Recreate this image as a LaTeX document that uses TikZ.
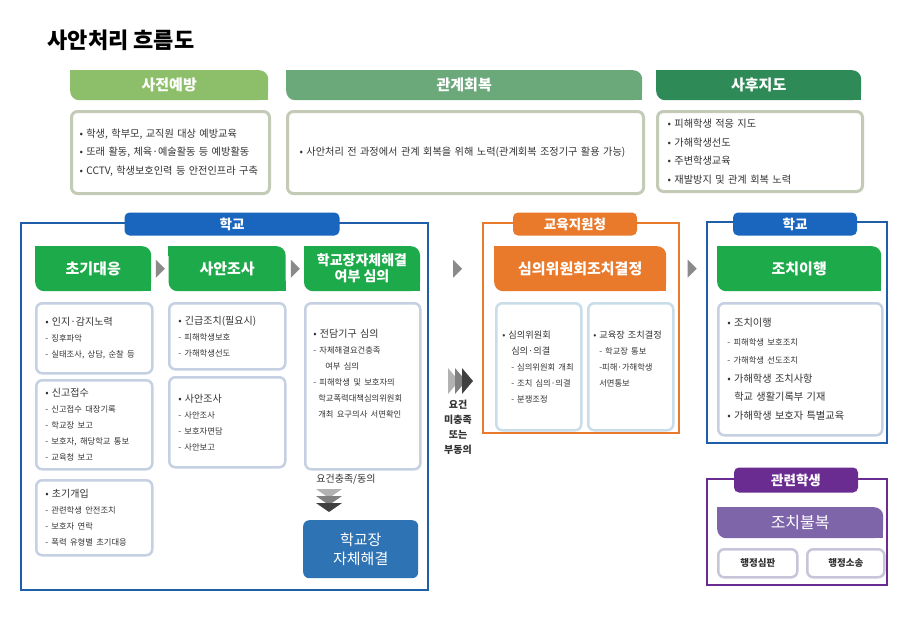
\documentclass[tikz,border=0pt]{standalone}
\usepackage{fontspec}
\setmainfont{Noto Sans CJK KR}
\usetikzlibrary{positioning, calc}
\definecolor{sajeon}{HTML}{8DBE6A}
\definecolor{gwangye}{HTML}{6BA87A}
\definecolor{sahu}{HTML}{2E8B57}
\definecolor{topline}{HTML}{C3CBB6}
\definecolor{school}{HTML}{1F5FAA}
\definecolor{schooltab}{HTML}{1A66BE}
\definecolor{stepgreen}{HTML}{1DAA4A}
\definecolor{boxline}{HTML}{C5D0E3}
\definecolor{selfblue}{HTML}{2E74B5}
\definecolor{office}{HTML}{E97A2C}
\definecolor{officeline}{HTML}{C9DDE9}
\definecolor{related}{HTML}{6B2C91}
\definecolor{relatedhead}{HTML}{7E65AA}
\definecolor{relatedline}{HTML}{C8C5DA}
\definecolor{arrowgray}{HTML}{8A8A8A}
\definecolor{txt}{HTML}{333333}
\newcommand{\subtxt}[1]{{\fontsize{8.3}{16}\selectfont #1}}

\begin{document}
\begin{tikzpicture}[x=1pt, y=-1pt,
    stephead/.style={fill=#1, rounded corners=9pt, text=white, align=center,
                     anchor=north west, font=\bfseries\fontsize{15}{17}\selectfont},
    labeltab/.style={fill=#1, rounded corners=5pt, text=white, minimum height=23,
                     minimum width=124, inner sep=0pt, font=\bfseries\fontsize{13.5}{15}\selectfont},
    zone/.style={draw=#1, line width=2pt, anchor=north west, inner sep=0pt},
    cbox/.style={draw=boxline, line width=2.5pt, rounded corners=6pt, fill=white,
                 anchor=north west, align=left, inner xsep=9pt, text=txt,
                 font=\fontsize{10}{16}\selectfont},
    topbox/.style={cbox, draw=topline, line width=3pt, inner xsep=8pt, font=\fontsize{10.2}{18.5}\selectfont},
    smallbox/.style={cbox, draw=#1, inner xsep=0pt, align=center,
                     font=\bfseries\fontsize{9.5}{11}\selectfont}]
  \path[use as bounding box, fill=white] (0,0) rectangle (904,619);

  \node[anchor=west, font=\bfseries\fontsize{22}{26}\selectfont] (title) at (44,40) {사안처리 흐름도};

  % top row
  \node[stephead=sajeon, minimum width=198, minimum height=30] (h1) at (70,70) {사전예방};
  \node[stephead=gwangye, minimum width=356, minimum height=30] (h2) at (286,70) {관계회복};
  \node[stephead=sahu, minimum width=205, minimum height=30] (h3) at (656,70) {사후지도};
  \node[topbox, text width=182pt, minimum height=82] (t1) at (70,110)
    {• 학생, 학부모, 교직원 대상 예방교육\\• 또래 활동, 체육·예술활동 등 예방활동\\• CCTV, 학생보호인력 등 안전인프라 구축};
  \node[topbox, text width=332pt, minimum height=82, inner xsep=12pt] (t2) at (286,110)
    {• 사안처리 전 과정에서 관계 회복을 위해 노력(관계회복 조정기구 활용 가능)};
  \node[topbox, text width=185pt, minimum height=80, inner xsep=10pt] (t3) at (656,110)
    {• 피해학생 적응 지도\\• 가해학생선도\\• 주변학생교육\\• 재발방지 및 관계 회복 노력};

  % zones
  \node[zone=school, minimum width=407, minimum height=367] (school) at (20,222) {};
  \node[zone=office, minimum width=196, minimum height=210] (office) at (482,222) {};
  \node[zone=school, minimum width=180, minimum height=221] (school2) at (706,221) {};
  \node[zone=related, minimum width=180, minimum height=106] (related) at (706,478) {};
  \node[labeltab=schooltab, minimum width=215] (tabschool) at (232,224) {학교};
  \node[labeltab=office] (taboffice) at (575,224) {교육지원청};
  \node[labeltab=schooltab] (tabschool2) at (795,224) {학교};
  \node[labeltab=related, minimum height=25] (tabrelated) at (796,480) {관련학생};

  % school steps
  \node[stephead=stepgreen, minimum width=116, minimum height=45] (s1) at (35,246) {초기대응};
  \node[stephead=stepgreen, minimum width=117, minimum height=45, right=17pt of s1] (s2) {사안조사};
  \node[stephead=stepgreen, minimum width=116, minimum height=45, right=18pt of s2,
        font=\bfseries\fontsize{14}{16}\selectfont] (s3) {학교장자체해결\\여부 심의};

  \node[cbox, text width=98pt, minimum height=70] (a1) at (35,302)
    {• 인지·감지노력\\\subtxt{- 징후파악}\\\subtxt{- 실태조사, 상담, 순찰 등}};
  \node[cbox, text width=98pt, minimum height=89] (a2) at (35,379)
    {• 신고접수\\\subtxt{- 신고접수 대장기록}\\\subtxt{- 학교장 보고}\\\subtxt{- 보호자, 해당학교 통보}\\\subtxt{- 교육청 보고}};
  \node[cbox, text width=98pt, minimum height=75] (a3) at (35,479)
    {• 초기개입\\\subtxt{- 관련학생 안전조치}\\\subtxt{- 보호자 연락}\\\subtxt{- 폭력 유형별 초기대응}};
  \node[cbox, text width=98pt, minimum height=66] (b1) at (168,302)
    {• 긴급조치(필요시)\\\subtxt{- 피해학생보호}\\\subtxt{- 가해학생선도}};
  \node[cbox, text width=98pt, minimum height=90] (b2) at (168,376)
    {• 사안조사\\\subtxt{- 사안조사}\\\subtxt{- 보호자면담}\\\subtxt{- 사안보고}};
  \node[cbox, text width=99pt, minimum height=166, inner xsep=8pt] (c1) at (304,302)
    {• 전담기구 심의\\\subtxt{- 자체해결요건충족}\\\subtxt{\hspace*{12pt}여부 심의}\\\subtxt{- 피해학생 및 보호자의}\\\subtxt{\hspace*{5pt}학교폭력대책심의위원회}\\\subtxt{\hspace*{5pt}개최 요구의사 서면확인}\\[10pt]~};
  \node[text=txt, font=\fontsize{10}{12}\selectfont] (oktxt) at (346,479) {요건충족/동의};
  \coordinate (ok) at (329,489);
  \node[fill=selfblue, rounded corners=6pt, text=white, align=center, anchor=north west,
        minimum width=115, minimum height=58, font=\fontsize{15}{19}\selectfont] (self) at (303,520) {학교장\\자체해결};

  % office
  \node[stephead=office, minimum width=172, minimum height=45] (o1) at (494,246) {심의위원회조치결정};
  \node[cbox, draw=officeline, inner xsep=6pt, text width=73pt, minimum height=127,
        font=\fontsize{9.2}{16}\selectfont] (p1) at (495,302)
    {• 심의위원회\\\hspace*{9pt}심의·의결\\\hspace*{9pt}\subtxt{- 심의위원회 개최}\\\hspace*{9pt}\subtxt{- 조치 심의·의결}\\\hspace*{9pt}\subtxt{- 분쟁조정}};
  \node[cbox, draw=officeline, inner xsep=5pt, text width=75pt, minimum height=127,
        font=\fontsize{9.2}{16}\selectfont] (p2) at (587,302)
    {• 교육장 조치결정\\\hspace*{6pt}\subtxt{- 학교장 통보}\\\hspace*{6pt}\subtxt{-피해·가해학생}\\\hspace*{6pt}\subtxt{서면통보}\\~};

  % school (after)
  \node[stephead=stepgreen, minimum width=164, minimum height=45] (r1) at (717,246) {조치이행};
  \node[cbox, text width=146pt, minimum height=132, font=\fontsize{10.2}{18.5}\selectfont] (r2) at (717,302)
    {• 조치이행\\\subtxt{- 피해학생 보호조치}\\\subtxt{- 가해학생 선도조치}\\• 가해학생 조치사항\\\hspace*{7pt}학교 생활기록부 기재\\• 가해학생 보호자 특별교육};

  % related students
  \node[stephead=relatedhead, minimum width=166, minimum height=31,
        font=\fontsize{16}{18}\selectfont] (q1) at (717,507) {조치불복};
  \node[smallbox=relatedline, minimum width=79, minimum height=28] (q2) at (717,548) {행정심판};
  \node[smallbox=relatedline, minimum width=77, minimum height=28] (q3) at (806,548) {행정소송};

  % square corners of the heads
  \foreach \n/\c in {h1/sajeon, h2/gwangye, h3/sahu, s1/stepgreen, s2/stepgreen, s3/stepgreen,
                     o1/office, r1/stepgreen, q1/relatedhead} {
    \fill[\c] (\n.north west) rectangle ++(10,10);
    \fill[\c] (\n.south east) rectangle ++(-10,-10);
  }

  % arrows
  \coordinate (a12) at ($(s1.east)!.5!(s2.west)$);
  \coordinate (a23) at ($(s2.east)!.5!(s3.west)$);
  \coordinate (m1) at ($(s3.east)!.5!(o1.west)$);
  \coordinate (m2) at ($(o1.east)!.5!(r1.west)$);
  \foreach \p in {a12, a23, m1, m2}
    \fill[arrowgray] (\p) ++(-4,-9) -- ++(9,9) -- ++(-9,9) -- cycle;

  \coordinate (fail) at (448,381);
  \foreach \i/\g in {0/30, 1/50, 2/75}
    \fill[black!\g] ([xshift=\i*7]fail) ++(0,-13) -- ++(11,13) -- ++(-11,13) -- cycle;
  \node[text=txt, align=center, font=\bfseries\fontsize{10}{15}\selectfont] (failtxt) at (458,427) {요건\\미충족\\또는\\부동의};

  \foreach \i/\g in {0/30, 1/50, 2/75}
    \fill[black!\g] ([yshift=-\i*7]ok) ++(-13,0) -- ++(26,0) -- ++(-13,9) -- cycle;
\end{tikzpicture}
\end{document}
